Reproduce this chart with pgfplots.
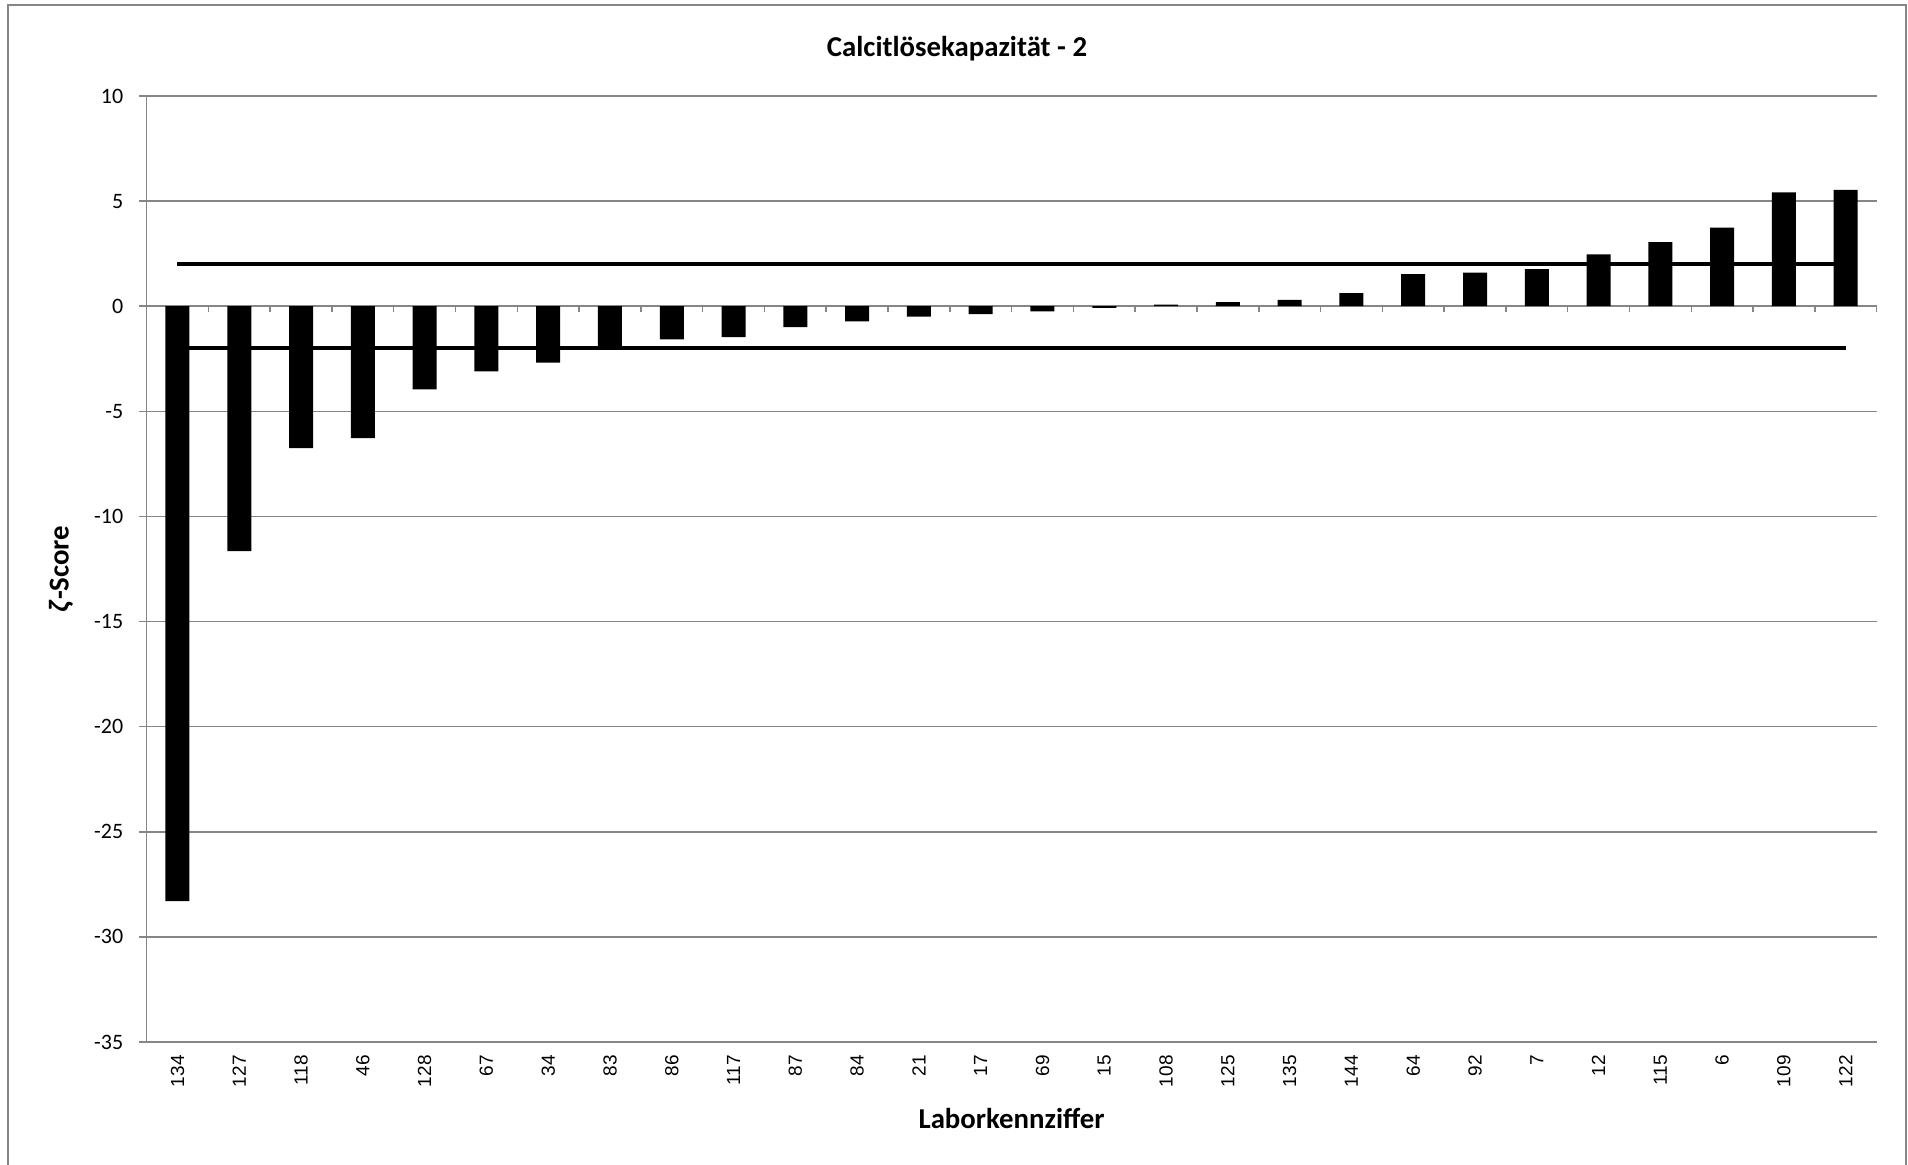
\documentclass[border=0pt]{standalone}
\usepackage{pgfplots}
\pgfplotsset{compat=1.18}
\usepackage{fontspec}
\setmainfont{Carlito}
\newfontfamily\arial{Liberation Sans}
\definecolor{gridgray}{HTML}{868686}

\pgfplotstableread{
idx val
0 -28.3
1 -11.65
2 -6.75
3 -6.28
4 -3.95
5 -3.1
6 -2.68
7 -2.05
8 -1.58
9 -1.47
10 -1.0
11 -0.72
12 -0.49
13 -0.37
14 -0.25
15 -0.08
16 0.08
17 0.2
18 0.3
19 0.62
20 1.53
21 1.6
22 1.77
23 2.47
24 3.05
25 3.74
26 5.42
27 5.53
}\datatable

\begin{document}
\begin{tikzpicture}[x=1pt,y=1pt]
\path[use as bounding box] (0,0) rectangle (954,582);
\draw[gridgray, line width=1pt] (4,-2) -- (4,579.5) -- (952.8,579.5) -- (952.8,-2);
\node[font=\fontsize{14.4}{17}\selectfont\bfseries] at (478.5,557.5) {Calcitlösekapazität - 2};
\begin{axis}[
  at={(73.3pt,61pt)}, anchor=south west, scale only axis,
  width=865pt, height=473pt,
  xmin=-0.5, xmax=27.5, ymin=-35, ymax=10,
  axis y line*=left, axis x line*=bottom,
  axis line style={gridgray, line width=0.75pt},
  ytick={-35,-30,...,10},
  ymajorgrids, grid style={gridgray, line width=0.75pt},
  xtick={0,...,27},
  xticklabels={134,127,118,46,128,67,34,83,86,117,87,84,21,17,69,15,108,125,135,144,64,92,7,12,115,6,109,122},
  x tick style={draw=none},
  y tick style={gridgray, line width=0.75pt},
  major tick length=4pt, tick align=outside,
  /pgf/number format/assume math mode=true,
  yticklabel style={font=\fontsize{11}{13}\selectfont, anchor=east, inner sep=0pt, xshift=-7.5pt},
  xticklabel style={font=\arial\fontsize{9.5}{11}\selectfont, rotate=90, anchor=east, inner sep=0pt, xshift=-2.5pt},
  xlabel={Laborkennziffer},
  xlabel style={font=\fontsize{14.4}{17}\selectfont\bfseries, at={(axis description cs:0.5,0)}, anchor=center, yshift=-38pt},
  ylabel={\textit{ζ}-Score},
  ylabel style={font=\fontsize{14.4}{17}\selectfont\bfseries, at={(axis description cs:-0.0495,0.5)}, anchor=center, rotate=0},
  clip=false,
]
\pgfplotsinvokeforeach{0,...,28}{
  \draw[gridgray, line width=0.75pt] (axis cs:#1-0.5,0) -- ([yshift=-3pt]axis cs:#1-0.5,0);
}
\addplot[black, line width=2pt] coordinates {(0,2) (27,2)};
\addplot[black, line width=2pt] coordinates {(0,-2) (27,-2)};
\addplot[ybar, bar width=12pt, fill=black, draw=none] table[x=idx, y=val] {\datatable};
\end{axis}
\end{tikzpicture}
\end{document}
